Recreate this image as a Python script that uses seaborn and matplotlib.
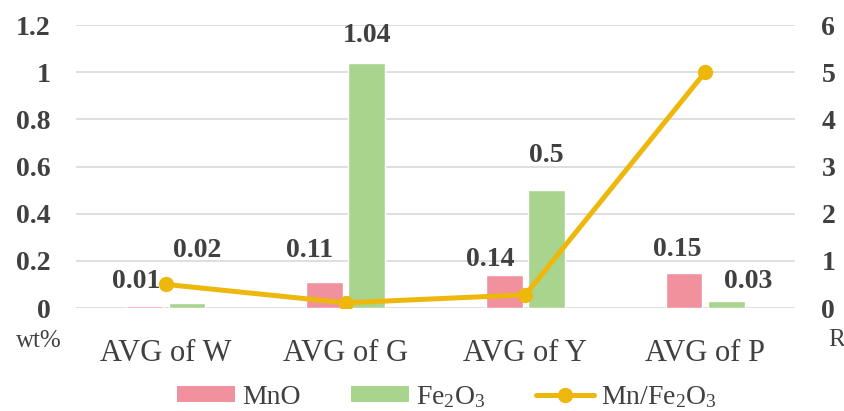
import numpy as np
import pandas as pd
import matplotlib
matplotlib.use("Agg")
import matplotlib.pyplot as plt
from matplotlib.patches import Patch
from matplotlib.lines import Line2D
import seaborn as sns

# Average oxide contents per sample group and the Mn/Fe2O3 ratio
categories = ["AVG of W", "AVG of G", "AVG of Y", "AVG of P"]
mno = [0.01, 0.11, 0.14, 0.15]
fe2o3 = [0.02, 1.04, 0.50, 0.03]
ratio = [0.5, 0.11, 0.28, 5.0]
left_ticks = [0, 0.2, 0.4, 0.6, 0.8, 1, 1.2]
right_ticks = [0, 1, 2, 3, 4, 5, 6]

# label offsets (pixels) for the value labels above the bars
mno_offsets = [(-9, 24), (-15, 32), (-14, 15), (-7, 23)]
fe_offsets = [(10, 53), (0, 27), (0, 35), (22, 19)]

PINK = "#F0919D"
GREEN = "#A9D48E"
GOLD = "#EDB80B"
TXT = "#404040"
FE_LABEL = "Fe$_2$O$_3$"
RATIO_LABEL = "Mn/Fe$_2$O$_3$"

sns.set_style("white")
plt.rcParams["font.family"] = ["Liberation Serif", "DejaVu Serif"]
plt.rcParams["mathtext.default"] = "regular"

df = pd.DataFrame({
    "group": categories * 2,
    "oxide": ["MnO"] * len(categories) + ["Fe2O3"] * len(categories),
    "wt": mno + fe2o3,
})

fig = plt.figure(figsize=(8.44, 4.11), dpi=100)
ax = fig.add_axes([76 / 844, 1 - 308 / 411, (795 - 76) / 844, (308 - 25) / 411])

sns.barplot(data=df, x="group", y="wt", hue="oxide", order=categories,
            hue_order=["MnO", "Fe2O3"], palette=[PINK, GREEN],
            width=0.47, gap=0.13, ax=ax, legend=False, saturation=1)

ax.set_ylim(0, 1.2)
ax.set_xlim(-0.5, len(categories) - 0.5)
ax.set_yticks(left_ticks)
ax.set_yticklabels([f"{t:g}" for t in left_ticks], fontsize=20,
                   fontweight="bold", color=TXT)
ax.tick_params(axis="y", length=0, pad=18.5)
ax.tick_params(axis="x", length=0, pad=22, labelsize=22, labelcolor=TXT)
ax.set_xlabel("")
ax.set_ylabel("")
ax.grid(axis="y", color="#D9D9D9", linewidth=1.2)
ax.set_axisbelow(True)
for s in ax.spines.values():
    s.set_visible(False)

# value labels above each bar
bars = ax.patches
mno_bars = bars[:len(categories)]
fe_bars = bars[len(categories):2 * len(categories)]
for bar, v, off in zip(mno_bars, mno, mno_offsets):
    ax.annotate(f"{v:g}", (bar.get_x() + bar.get_width() / 2, v),
                xytext=off, textcoords="offset pixels", ha="center", va="center",
                fontsize=20, fontweight="bold", color=TXT)
for bar, v, off in zip(fe_bars, fe2o3, fe_offsets):
    ax.annotate(f"{v:g}", (bar.get_x() + bar.get_width() / 2, v),
                xytext=off, textcoords="offset pixels", ha="center", va="center",
                fontsize=20, fontweight="bold", color=TXT)

# ratio on the secondary axis
ax2 = ax.twinx()
sns.lineplot(x=np.arange(len(categories)), y=ratio, ax=ax2, color=GOLD,
             linewidth=3.6, marker="o", markersize=11, markeredgewidth=0,
             zorder=5)
ax2.set_ylim(0, 6)
ax2.set_yticks(right_ticks)
ax2.set_yticklabels([str(t) for t in right_ticks], fontsize=20,
                    fontweight="bold", color=TXT)
ax2.tick_params(axis="y", length=0, pad=19)
for s in ax2.spines.values():
    s.set_visible(False)
ax2.set_xlim(-0.5, len(categories) - 0.5)

fig.text(39 / 844, 1 - 341 / 411, "wt%", fontsize=18, color=TXT,
         ha="center", va="center")
fig.text(828 / 844, 1 - 340 / 411, "R", fontsize=18, color=TXT,
         ha="left", va="center")

handles = [
    Patch(facecolor=PINK, edgecolor="none"),
    Patch(facecolor=GREEN, edgecolor="none"),
    Line2D([0], [0], color=GOLD, linewidth=3.6, marker="o", markersize=11,
           markeredgewidth=0),
]
fig.legend(handles, ["MnO", FE_LABEL, RATIO_LABEL], loc="center",
           bbox_to_anchor=(447 / 844, 1 - 397 / 411), ncol=3, frameon=False,
           fontsize=20, handlelength=2.1, handleheight=0.55, columnspacing=1.8,
           handletextpad=0.25, labelcolor=TXT, borderpad=0)

fig.savefig("out.png", dpi=100)
